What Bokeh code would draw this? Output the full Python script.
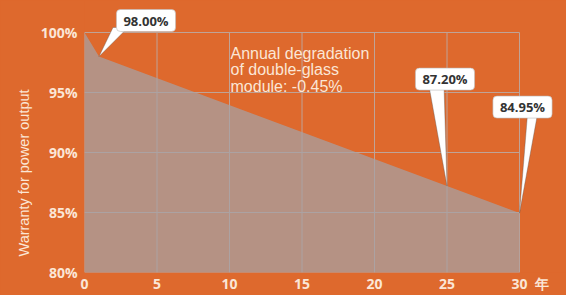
from bokeh.plotting import figure
from bokeh.models import Range1d, FixedTicker, Label, Title, ColumnDataSource
from bokeh.embed import file_html
from bokeh.resources import INLINE

# ---- data ----
years = [0, 1, 25, 30]
warranty = [100.0, 98.0, 87.2, 84.95]
callout_years = [1, 25, 30]
callout_values = [98.0, 87.2, 84.95]
x_ticks = [0, 5, 10, 15, 20, 25, 30]
y_ticks = [80, 85, 90, 95, 100]
note_text = "Annual degradation\nof double-glass\nmodule: -0.45%"
y_title = "Warranty for power output"
x_unit = "年"

# ---- style / geometry ----
ORANGE = "#DE692D"
CREAM = "#FBE6D6"
GRID = "#BFA397"
W, H = 566, 295
LEFT, BOTTOM = 84, 23
X0, X1, Y0, Y1 = 0, 30, 80, 100
sx = 14.5   # px per year
sy = 12.0   # px per percent
x_end = X0 + (W - LEFT) / sx
y_end = Y0 + (H - BOTTOM) / sy

p = figure(width=W, height=H, output_backend="svg", toolbar_location=None,
           x_range=Range1d(X0, x_end), y_range=Range1d(Y0, y_end),
           min_border_left=LEFT, min_border_right=0, min_border_top=0,
           min_border_bottom=BOTTOM)
p.background_fill_color = ORANGE
p.border_fill_color = ORANGE
p.outline_line_color = None
p.xgrid.visible = False
p.ygrid.visible = False

# unit tick placed just right of the last year tick
unit_pos = X1 + 22 / sx
p.xaxis.ticker = FixedTicker(ticks=x_ticks + [unit_pos])
p.xaxis.major_label_overrides = {unit_pos: x_unit}
p.yaxis.ticker = FixedTicker(ticks=y_ticks)
p.yaxis.major_label_overrides = {t: f"{t}%" for t in y_ticks}
for ax in (p.xaxis, p.yaxis):
    ax.axis_line_color = None
    ax.major_tick_line_color = None
    ax.minor_tick_line_color = None
    ax.major_tick_out = 0
    ax.major_tick_in = 0
    ax.minor_tick_out = 0
    ax.minor_tick_in = 0
    ax.axis_label = None
    ax.axis_label_standoff = 0
    ax.major_label_text_color = CREAM
    ax.major_label_text_font = "Open Sans"
    ax.major_label_text_font_style = "bold"
    ax.major_label_text_font_size = "14px"
    ax.major_label_text_line_height = 1.0
p.xaxis.major_label_standoff = 1
p.yaxis.major_label_standoff = 7

p.add_layout(Title(text=y_title, align="left", offset=16, standoff=12,
                   text_font="Liberation Sans", text_font_style="normal",
                   text_font_size="14.5px", text_color=CREAM), "left")

# grid lines limited to the data area
p.segment(x0=x_ticks, x1=x_ticks, y0=[Y0] * len(x_ticks), y1=[Y1] * len(x_ticks),
          line_color=GRID, line_width=1)
p.segment(x0=[X0] * len(y_ticks), x1=[X1] * len(y_ticks), y0=y_ticks, y1=y_ticks,
          line_color=GRID, line_width=1)

src = ColumnDataSource(dict(x=years, top=warranty, bottom=[Y0] * len(years)))
p.varea(x="x", y1="bottom", y2="top", source=src, fill_color="#A5A2A6", fill_alpha=0.72)

# note text
p.add_layout(Label(x=10 + 1 / sx, y=Y1 - 12 / sy, text=note_text, text_color=CREAM,
                   text_font="Liberation Sans", text_font_size="16px",
                   text_baseline="top", text_align="left", text_line_height=0.98))

# callouts: box center offset from point (px), pointer base relative to box center (px)
offsets = [(47, -36), (-2, -107), (3, -106)]
bases = [(-33, -18), (-16, -1), (5, 15)]
for yr, val, (dx, dy), (b0, b1) in zip(callout_years, callout_values, offsets, bases):
    by = val - (dy + 7) / sy
    p.patch(x=[yr, yr + (dx + b0) / sx, yr + (dx + b1) / sx],
            y=[val, by, by], fill_color="white", line_color="#555555",
            line_width=0.6, line_alpha=0.6)
    p.add_layout(Label(x=yr + dx / sx, y=val - dy / sy, text=f"{val:.2f}%",
                       text_align="center", text_baseline="middle",
                       text_font="Open Sans", text_font_style="bold",
                       text_font_size="13px", text_color="#333333",
                       background_fill_color="white", border_line_color="#BBBBBB",
                       border_line_alpha=0.6,
                       padding=dict(left=7, right=7, top=2, bottom=2), border_radius=4))

html = file_html(p, INLINE)
html = html.replace("<head>", "<head><style>body{background:%s;}</style>" % ORANGE, 1)
open("out.html", "w").write(html)
